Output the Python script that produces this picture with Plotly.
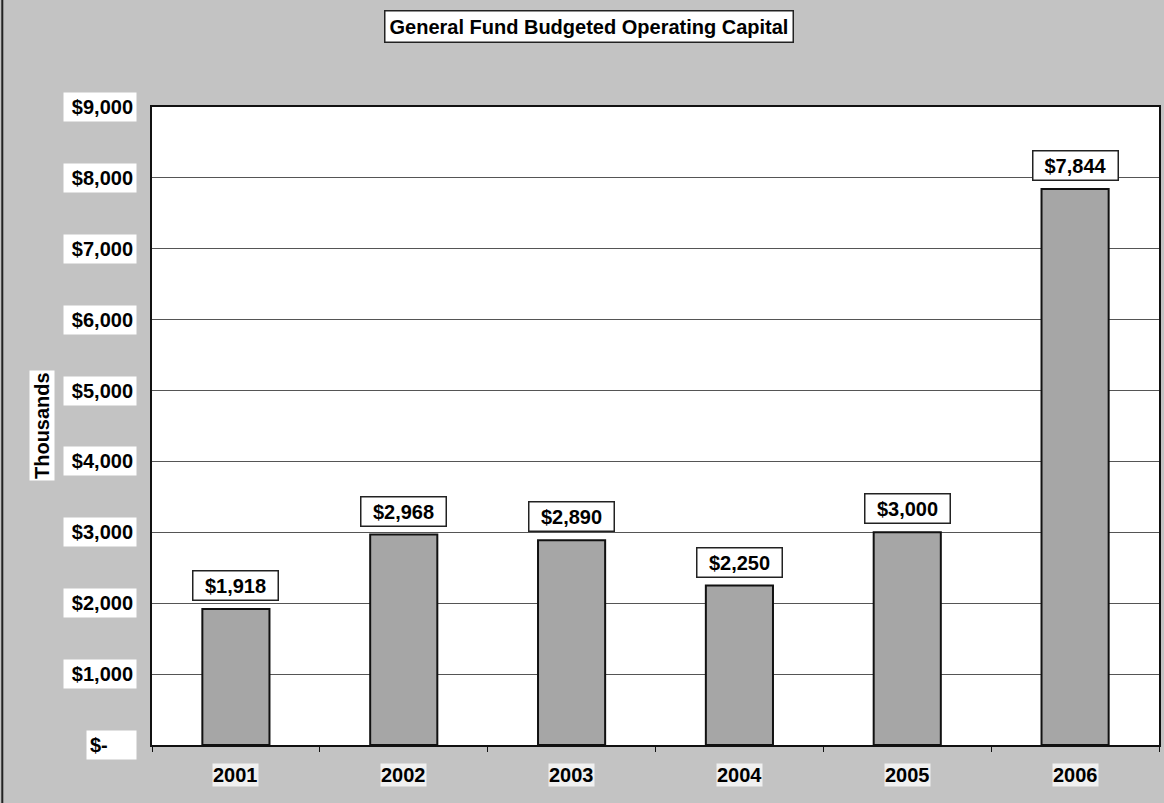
import plotly.graph_objects as go

# Budgeted operating capital, in thousands of dollars
years = ["2001", "2002", "2003", "2004", "2005", "2006"]
capital = [1918, 2968, 2890, 2250, 3000, 7844]
value_labels = ["$1,918", "$2,968", "$2,890", "$2,250", "$3,000", "$7,844"]

y_ticks = [0, 1000, 2000, 3000, 4000, 5000, 6000, 7000, 8000, 9000]
y_tick_labels = ["$-", "$1,000", "$2,000", "$3,000", "$4,000",
                 "$5,000", "$6,000", "$7,000", "$8,000", "$9,000"]

title_text = "General Fund Budgeted Operating Capital"
y_title = "Thousands"

FONT = "Liberation Sans, Arial, sans-serif"
FS = 20
BG = "#c3c3c3"
BAR = "#a6a6a6"

fig = go.Figure()
fig.add_trace(go.Bar(
    x=years,
    y=capital,
    width=0.4,
    marker=dict(color=BAR, line=dict(color="#111111", width=2)),
    hoverinfo="skip",
))

annotations = []

# value boxes above bars (category axis: positioned by index)
for i, (val, lab) in enumerate(zip(capital, value_labels)):
    annotations.append(dict(
        x=i, y=val, xref="x", yref="y",
        text=f"<b>{lab}</b>",
        showarrow=False, yanchor="bottom", yshift=8,
        font=dict(family=FONT, size=FS, color="#000000"),
        bgcolor="#ffffff", bordercolor="#222222", borderwidth=1.5,
        borderpad=3, width=78,
    ))

# y-axis labels in white boxes
for v, lab in zip(y_ticks, y_tick_labels):
    if lab == "$-":
        annotations.append(dict(
            x=0, y=v, xref="paper", yref="y", xanchor="right", xshift=-15,
            text=f"<b>{lab}</b>", showarrow=False, align="left", width=43,
            font=dict(family=FONT, size=FS, color="#000000"),
            bgcolor="#ffffff", borderpad=3,
        ))
    else:
        annotations.append(dict(
            x=0, y=v, xref="paper", yref="y", xanchor="right", xshift=-15,
            text=f"<b>{lab}</b>", showarrow=False, align="right", width=66,
            font=dict(family=FONT, size=FS, color="#000000"),
            bgcolor="#ffffff", borderpad=3,
        ))

# category labels below the axis
for i, yr in enumerate(years):
    annotations.append(dict(
        x=i, y=0, xref="x", yref="paper", yanchor="middle", yshift=-30,
        text=f"<b>{yr}</b>", showarrow=False,
        font=dict(family=FONT, size=FS, color="#000000"),
        bgcolor="rgba(255,255,255,0.75)", borderpad=0,
    ))

# axis title
annotations.append(dict(
    x=0, y=0.5, xref="paper", yref="paper", xanchor="center", yanchor="middle",
    xshift=-110, yshift=0,
    text=f"<b>{y_title}</b>", textangle=-90, showarrow=False,
    font=dict(family=FONT, size=FS, color="#000000"),
    bgcolor="#ffffff", borderpad=1,
))

# chart title
annotations.append(dict(
    x=0.434, y=1.126, xref="paper", yref="paper", xanchor="center", yanchor="middle",
    text=f"<b>{title_text}</b>", showarrow=False,
    font=dict(family=FONT, size=FS, color="#000000"),
    bgcolor="#ffffff", bordercolor="#222222", borderwidth=1.5, borderpad=4,
))

fig.update_layout(
    width=1164, height=803,
    margin=dict(l=152, r=3, t=107, b=58),
    paper_bgcolor=BG,
    plot_bgcolor="#ffffff",
    showlegend=False,
    annotations=annotations,
    shapes=[dict(type="line", xref="paper", yref="paper",
                 x0=-150 / 1009, x1=-150 / 1009, y0=-58 / 638, y1=1 + 107 / 638,
                 line=dict(color="#222222", width=2))],
)

fig.update_xaxes(
    type="category", range=[-0.5, 5.5], showticklabels=False, showgrid=False,
    showline=True, mirror=True, linecolor="#111111", linewidth=2,
    ticks="outside", tickson="boundaries", ticklen=5, tickcolor="#111111",
)
fig.update_yaxes(
    range=[0, 9000], tickvals=y_ticks, showticklabels=False,
    showgrid=True, gridcolor="#555555", gridwidth=1,
    showline=True, mirror=True, linecolor="#111111", linewidth=2,
    zeroline=False,
)

fig.write_html("out.html")
